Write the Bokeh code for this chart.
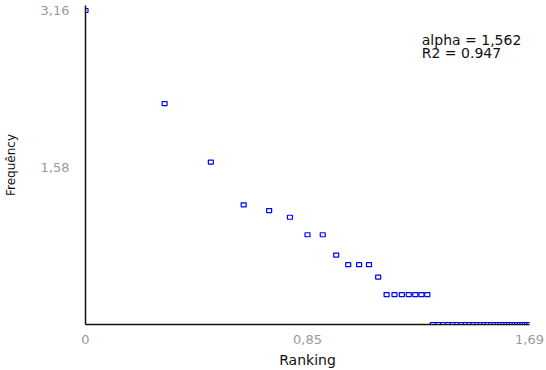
import numpy as np
from bokeh.plotting import figure
from bokeh.models import Range1d, FixedTicker, Label, ColumnDataSource
from bokeh.embed import file_html
from bokeh.resources import INLINE

# Rank-frequency data
ranks = [1, 2, 3, 4, 5, 6, 7, 8, 9, 10, 11, 12, 13, 14, 15, 16, 17, 18, 19, 20,
         21, 22, 23, 24, 25, 26, 27, 28, 29, 30, 31, 32, 33, 34, 35, 36, 37, 38, 39, 40,
         41, 42, 43, 44, 45, 46, 47, 48, 49]
freqs = [1445, 167, 43, 16, 14, 12, 8, 8, 5, 4, 4, 4, 3, 2, 2, 2, 2, 2, 2, 2,
         1, 1, 1, 1, 1, 1, 1, 1, 1, 1, 1, 1, 1, 1, 1, 1, 1, 1, 1, 1,
         1, 1, 1, 1, 1, 1, 1, 1, 1]
x_ticks = [0, 0.845, 1.69]
x_tick_labels = ["0", "0,85", "1,69"]
y_ticks = [1.58, 3.16]
y_tick_labels = ["1,58", "3,16"]
stats_lines = ["alpha = 1,562", "R2 = 0.947"]

src = ColumnDataSource(data=dict(x=np.log10(ranks), y=np.log10(freqs)))

p = figure(width=546, height=370, output_backend="svg", toolbar_location=None,
           x_range=Range1d(0, 1.69), y_range=Range1d(0, 3.21),
           min_border_left=85, min_border_right=17, min_border_top=5, min_border_bottom=46)
p.outline_line_color = None
p.xgrid.visible = False
p.ygrid.visible = False
p.background_fill_color = "white"

p.rect("x", "y", source=src, width=5, height=4, width_units="screen", height_units="screen",
       line_color="#0000ff", fill_color="white", line_width=1.2)

for ax in (p.xaxis[0], p.yaxis[0]):
    ax.axis_line_color = "#111111"
    ax.axis_line_width = 1.5
    ax.major_tick_line_color = None
    ax.minor_tick_line_color = None
    ax.major_label_text_color = "#9a9a9a"
    ax.major_label_text_font = "DejaVu Sans"
    ax.major_label_text_font_size = "13px"
    ax.axis_label_text_font = "DejaVu Sans"
    ax.axis_label_text_font_style = "normal"
    ax.axis_label_text_color = "#111111"

p.xaxis.axis_label_text_font_size = "14px"
p.yaxis.axis_label_text_font_size = "12px"
p.xaxis.ticker = FixedTicker(ticks=x_ticks)
p.xaxis.major_label_overrides = {t: l for t, l in zip(x_ticks, x_tick_labels)}
p.yaxis.ticker = FixedTicker(ticks=y_ticks)
p.yaxis.major_label_overrides = {t: l for t, l in zip(y_ticks, y_tick_labels)}
p.xaxis.axis_label = "Ranking"
p.yaxis.axis_label = "Frequêncy"
p.xaxis.major_label_standoff = 4
p.yaxis.major_label_standoff = 10
p.xaxis.axis_label_standoff = 5
p.yaxis.axis_label_standoff = 20

for i, line in enumerate(stats_lines):
    p.add_layout(Label(x=1.28, y=2.94 - i * 0.131, text=line, text_font="DejaVu Sans",
                       text_font_size="14px", text_color="#111111",
                       text_baseline="top", text_align="left"))

open("out.html", "w").write(file_html(p, INLINE))
